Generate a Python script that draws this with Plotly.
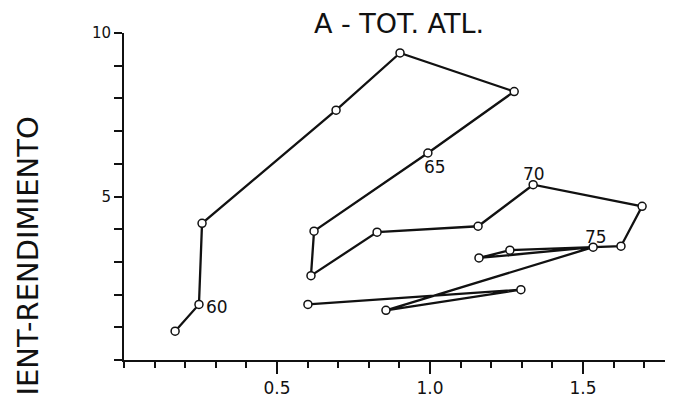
import plotly.graph_objects as go

# years 1959-1978
years = list(range(1959, 1979))
effort = [0.167, 0.245, 0.255, 0.693, 0.902, 1.275, 0.993, 0.621, 0.611, 0.827,
          1.157, 1.337, 1.693, 1.624, 1.261, 1.160, 1.533, 0.856, 1.297, 0.601]
yield_ = [0.88, 1.70, 4.18, 7.64, 9.39, 8.21, 6.33, 3.94, 2.58, 3.91,
          4.09, 5.36, 4.70, 3.48, 3.36, 3.12, 3.45, 1.52, 2.15, 1.70]

label_years = ["60", "65", "70", "75"]
label_x = [0.304, 1.016, 1.340, 1.542]
label_y = [1.61, 5.91, 5.70, 3.77]

x_ticks = [0.5, 1.0, 1.5]
x_ticktext = ["0.5", "1.0", "1.5"]
y_ticks = [5, 10]

FONT = "DejaVu Sans"


def main():
	fig = go.Figure()

	fig.add_trace(go.Scatter(
	    x=effort, y=yield_, mode="lines+markers",
	    line=dict(color="#111", width=2.3),
	    marker=dict(symbol="circle", size=8, color="white",
	                line=dict(color="#111", width=1.5)),
	    text=[str(y) for y in years],
	    showlegend=False,
	))

	for t, lx, ly in zip(label_years, label_x, label_y):
		fig.add_annotation(x=lx, y=ly, text=t, showarrow=False,
		                   xanchor="center", yanchor="middle",
		                   font=dict(family=FONT, size=17, color="#111"))

	# y axis title, cut off by the bottom edge as in the scan
	fig.add_annotation(xref="paper", yref="paper", x=-0.175, y=0.752,
	                   text="IENT-RENDIMIENTO", textangle=-90, showarrow=False,
	                   xanchor="center", yanchor="top",
	                   font=dict(family=FONT, size=29, color="#111"))

	# page body has an 8px margin, so the figure is a bit smaller than the window
	fig.update_layout(
	    width=665, height=390,
	    margin=dict(l=116, r=0, t=25, b=35),
	    paper_bgcolor="white", plot_bgcolor="white",
	    title=dict(text="A - TOT. ATL.", x=0.588, xanchor="center",
	               y=0.96, yanchor="middle", yref="container",
	               font=dict(family=FONT, size=27, color="#111")),
	)

	fig.update_xaxes(
	    range=[0, 1.794], showgrid=False, zeroline=False,
	    showline=True, linecolor="#111", linewidth=2,
	    tickvals=x_ticks, ticktext=x_ticktext,
	    ticks="outside", ticklen=12, tickwidth=2, tickcolor="#111",
	    minor=dict(dtick=0.1, tick0=0, ticks="outside", ticklen=6,
	               tickwidth=1.5, tickcolor="#111", showgrid=False),
	    tickfont=dict(family=FONT, size=17, color="#111"),
	)
	fig.update_yaxes(
	    range=[0, 10], showgrid=False, zeroline=False,
	    showline=True, linecolor="#111", linewidth=2,
	    tickvals=y_ticks,
	    ticks="outside", ticklen=8, tickwidth=1.5, tickcolor="#111",
	    minor=dict(dtick=1, tick0=0, ticks="outside", ticklen=8,
	               tickwidth=1.5, tickcolor="#111", showgrid=False),
	    tickfont=dict(family=FONT, size=15, color="#111"),
	)

	fig.write_html("out.html")


if __name__ == '__main__':
	main()
